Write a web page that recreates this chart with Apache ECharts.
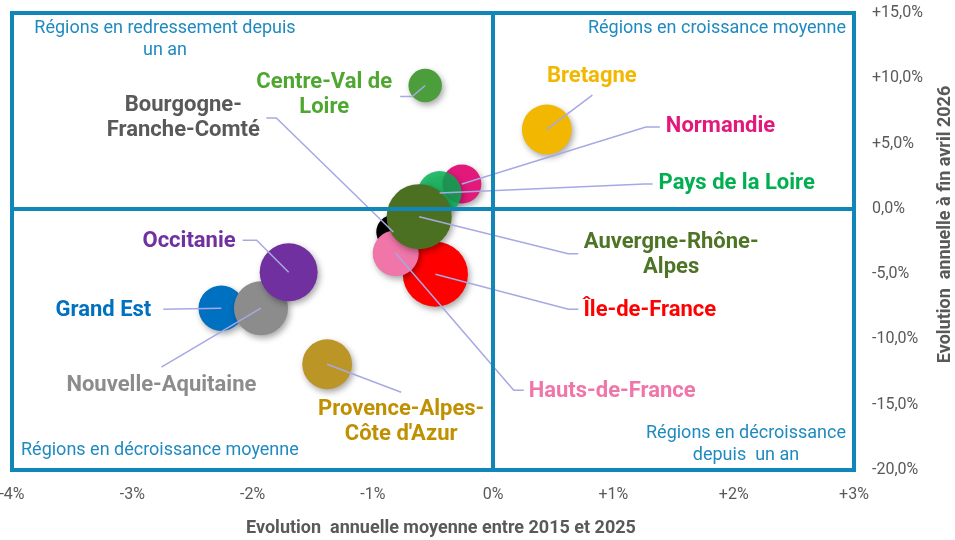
<!DOCTYPE html>
<html>
<head>
<meta charset="utf-8">
<script src="https://cdn.jsdelivr.net/npm/echarts@6/dist/echarts.min.js"></script>
<style>
  html, body { margin: 0; padding: 0; background: #ffffff; }
  #chart { width: 955px; height: 540px; }
</style>
</head>
<body>
<div id="chart"></div>
<script>
// ---- Data -------------------------------------------------------------
// Regions, in drawing order (first drawn = lowest bubble)
const regions = [
  'Bourgogne-Franche-Comté', 'Normandie', 'Pays de la Loire', 'Centre-Val de Loire',
  'Bretagne', 'Île-de-France', 'Hauts-de-France', 'Auvergne-Rhône-Alpes',
  'Grand Est', 'Nouvelle-Aquitaine', 'Occitanie', "Provence-Alpes-Côte d'Azur"
];
// Label text as printed (with line breaks)
const regionLabels = [
  'Bourgogne-\nFranche-Comté', 'Normandie', 'Pays de la Loire', 'Centre-Val de\nLoire',
  'Bretagne', 'Île-de-France', 'Hauts-de-France', 'Auvergne-Rhône-\nAlpes',
  'Grand Est', 'Nouvelle-Aquitaine', 'Occitanie', "Provence-Alpes-\nCôte d'Azur"
];
// Mean annual change 2015–2025 (%)
const longTermChange = [-0.83, -0.26, -0.445, -0.565, 0.446, -0.48, -0.81, -0.615, -2.26, -1.93, -1.70, -1.38];
// Annual change to end of April 2026 (%)
const recentChange = [-1.77, 1.91, 1.22, 9.45, 6.08, -5.01, -3.40, -0.60, -7.61, -7.61, -4.85, -11.9];
// Bubble weight
const volume = [29, 38, 48, 28, 62, 106, 53, 106, 52, 73, 84, 62];

// Axis tick labels
const xTickLabels = ['-4%', '-3%', '-2%', '-1%', '0%', '+1%', '+2%', '+3%'];
const yTickLabels = ['-20,0%', '-15,0%', '-10,0%', '-5,0%', '0,0%', '+5,0%', '+10,0%', '+15,0%'];

// Quadrant captions
const quadrantCaptions = {
  topLeft: 'Régions en redressement depuis\nun an',
  topRight: 'Régions en croissance moyenne',
  bottomLeft: 'Régions en décroissance moyenne',
  bottomRight: 'Régions en décroissance\ndepuis  un an'
};

// ---- Styles -----------------------------------------------------------
const bubbleColors = ['#000000', '#e2187a', '#00b050', '#4c9e3c', '#f2b700', '#ff0000',
                      '#f075a9', '#4b7021', '#0070c0', '#8c8c8c', '#7030a0', '#bc9527'];
const bubbleOpacity = [1, 1, 0.82, 1, 1, 1, 1, 1, 1, 1, 1, 1];
const labelColors = ['#595959', '#e2187a', '#00b050', '#4ea72e', '#f2b700', '#ff0000',
                     '#f075a8', '#4e7426', '#0070c0', '#8c8c8c', '#7030a0', '#bf9000'];
const frameColor = '#1087b8';
const captionColor = '#1f8ac0';
const leaderColor = '#a6a9e3';
const textGrey = '#595959';

// Leader line bends and label anchors, as pixel offsets from each bubble centre
const labelLayout = [
  { line: [[-117, -114], [-127, -114]], text: [-210, -113.5], align: 'center' },
  { line: [[184, -57], [198, -57]],     text: [204, -57],     align: 'left' },
  { line: [[205, -9], [213, -9]],       text: [219, -9],      align: 'left' },
  { line: [[-13, 11], [-25, 11]],       text: [-101, 10],     align: 'center' },
  { line: [[45.6, -34.3]],              text: [45, -53],      align: 'center' },
  { line: [[133, 35], [143, 35]],       text: [148, 36],      align: 'left' },
  { line: [[118, 137], [128, 137]],     text: [133, 138],     align: 'left' },
  { line: [[149, 37], [159, 37]],       text: [252, 38.5],    align: 'center' },
  { line: [[-58, 1]],                   text: [-70, 2],       align: 'right' },
  { line: [[-99.6, 59]],                text: [-99.6, 77.5],  align: 'center' },
  { line: [[-32, -32], [-46, -32]],     text: [-53, -30.5],   align: 'right' },
  { line: [[74, 28]],                   text: [74, 58],       align: 'center' }
];

// ---- Chart ------------------------------------------------------------
const X_MIN = -4, X_MAX = 3, X_STEP = 1;
const Y_MIN = -20, Y_MAX = 15, Y_STEP = 5;

const chart = echarts.init(document.getElementById('chart'), null, { renderer: 'canvas' });

const bubbleData = regions.map((name, i) => ({
  name: name,
  value: [longTermChange[i], recentChange[i], volume[i]],
  itemStyle: { color: bubbleColors[i], opacity: bubbleOpacity[i] }
}));
const labelData = regions.map((name, i) => ({
  name: name,
  value: [longTermChange[i], recentChange[i]]
}));

const option = {
  animation: false,
  backgroundColor: '#ffffff',
  textStyle: { fontFamily: 'Roboto' },
  grid: {
    left: 12, right: 101, top: 13, bottom: 70,
    outerBoundsMode: 'none', containLabel: false,
    show: true, borderColor: frameColor, borderWidth: 4, backgroundColor: 'transparent'
  },
  xAxis: {
    type: 'value', min: X_MIN, max: X_MAX, interval: X_STEP,
    axisLine: { show: false }, axisTick: { show: false }, splitLine: { show: false },
    axisLabel: {
      color: textGrey, fontSize: 16, margin: 17, fontFamily: 'Roboto',
      formatter: v => xTickLabels[Math.round((v - X_MIN) / X_STEP)]
    },
    name: 'Evolution  annuelle moyenne entre 2015 et 2025',
    nameLocation: 'middle', nameGap: 49,
    nameTextStyle: { color: textGrey, fontWeight: 'bold', fontSize: 18, fontFamily: 'Roboto', padding: [0, 0, 0, 16] }
  },
  yAxis: {
    type: 'value', position: 'right', min: Y_MIN, max: Y_MAX, interval: Y_STEP,
    axisLine: { show: false }, axisTick: { show: false }, splitLine: { show: false },
    axisLabel: {
      color: textGrey, fontSize: 16, margin: 18, fontFamily: 'Roboto',
      formatter: v => yTickLabels[Math.round((v - Y_MIN) / Y_STEP)]
    },
    name: 'Evolution  annuelle à fin avril 2026',
    nameLocation: 'middle', nameGap: 82,
    nameTextStyle: { color: textGrey, fontWeight: 'bold', fontSize: 18, fontFamily: 'Roboto', padding: [0, 0, 0, 34] }
  },
  series: [
    {
      // zero cross lines splitting the four quadrants
      type: 'scatter', data: [], z: 1, silent: true,
      markLine: {
        silent: true, symbol: 'none', animation: false,
        label: { show: false },
        lineStyle: { color: frameColor, width: 4, type: 'solid' },
        emphasis: { disabled: true },
        data: [{ xAxis: 0 }, { yAxis: 0 }]
      }
    },
    {
      type: 'scatter', z: 2, data: bubbleData,
      symbolSize: val => 2 * Math.sqrt(10 * val[2]),
      itemStyle: {
        shadowBlur: 6, shadowOffsetX: 2, shadowOffsetY: 3, shadowColor: 'rgba(0,0,0,0.35)'
      },
      emphasis: { disabled: true }
    },
    {
      type: 'custom', z: 3, data: labelData, clip: false, silent: true,
      renderItem: (params, api) => {
        const i = params.dataIndex;
        const c = api.coord([api.value(0), api.value(1)]);
        const lay = labelLayout[i];
        const pts = [c].concat(lay.line.map(p => [c[0] + p[0], c[1] + p[1]]));
        return {
          type: 'group',
          children: [
            { type: 'polyline', shape: { points: pts },
              style: { stroke: leaderColor, lineWidth: 1.5, fill: null } },
            { type: 'text', x: c[0] + lay.text[0], y: c[1] + lay.text[1],
              style: { text: regionLabels[i], fill: labelColors[i],
                       font: 'bold 22px Roboto', align: lay.align,
                       verticalAlign: 'middle', lineHeight: 25 } }
          ]
        };
      }
    }
  ]
};

chart.setOption(option);

// Quadrant captions, anchored on the plot corners
const tl = chart.convertToPixel({ gridIndex: 0 }, [X_MIN, Y_MAX]);
const br = chart.convertToPixel({ gridIndex: 0 }, [X_MAX, Y_MIN]);
const captionStyle = { fill: captionColor, font: '18px Roboto', lineHeight: 22 };
chart.setOption({
  graphic: [
    { type: 'text', x: tl[0] + 153, y: tl[1] + 4,
      style: Object.assign({ text: quadrantCaptions.topLeft, align: 'center', verticalAlign: 'top' }, captionStyle) },
    { type: 'text', x: br[0] - 8, y: tl[1] + 4,
      style: Object.assign({ text: quadrantCaptions.topRight, align: 'right', verticalAlign: 'top' }, captionStyle) },
    { type: 'text', x: tl[0] + 9, y: br[1] - 9,
      style: Object.assign({ text: quadrantCaptions.bottomLeft, align: 'left', verticalAlign: 'bottom' }, captionStyle) },
    { type: 'text', x: br[0] - 108, y: br[1] - 4,
      style: Object.assign({ text: quadrantCaptions.bottomRight, align: 'center', verticalAlign: 'bottom' }, captionStyle) }
  ]
});
</script>
</body>
</html>
